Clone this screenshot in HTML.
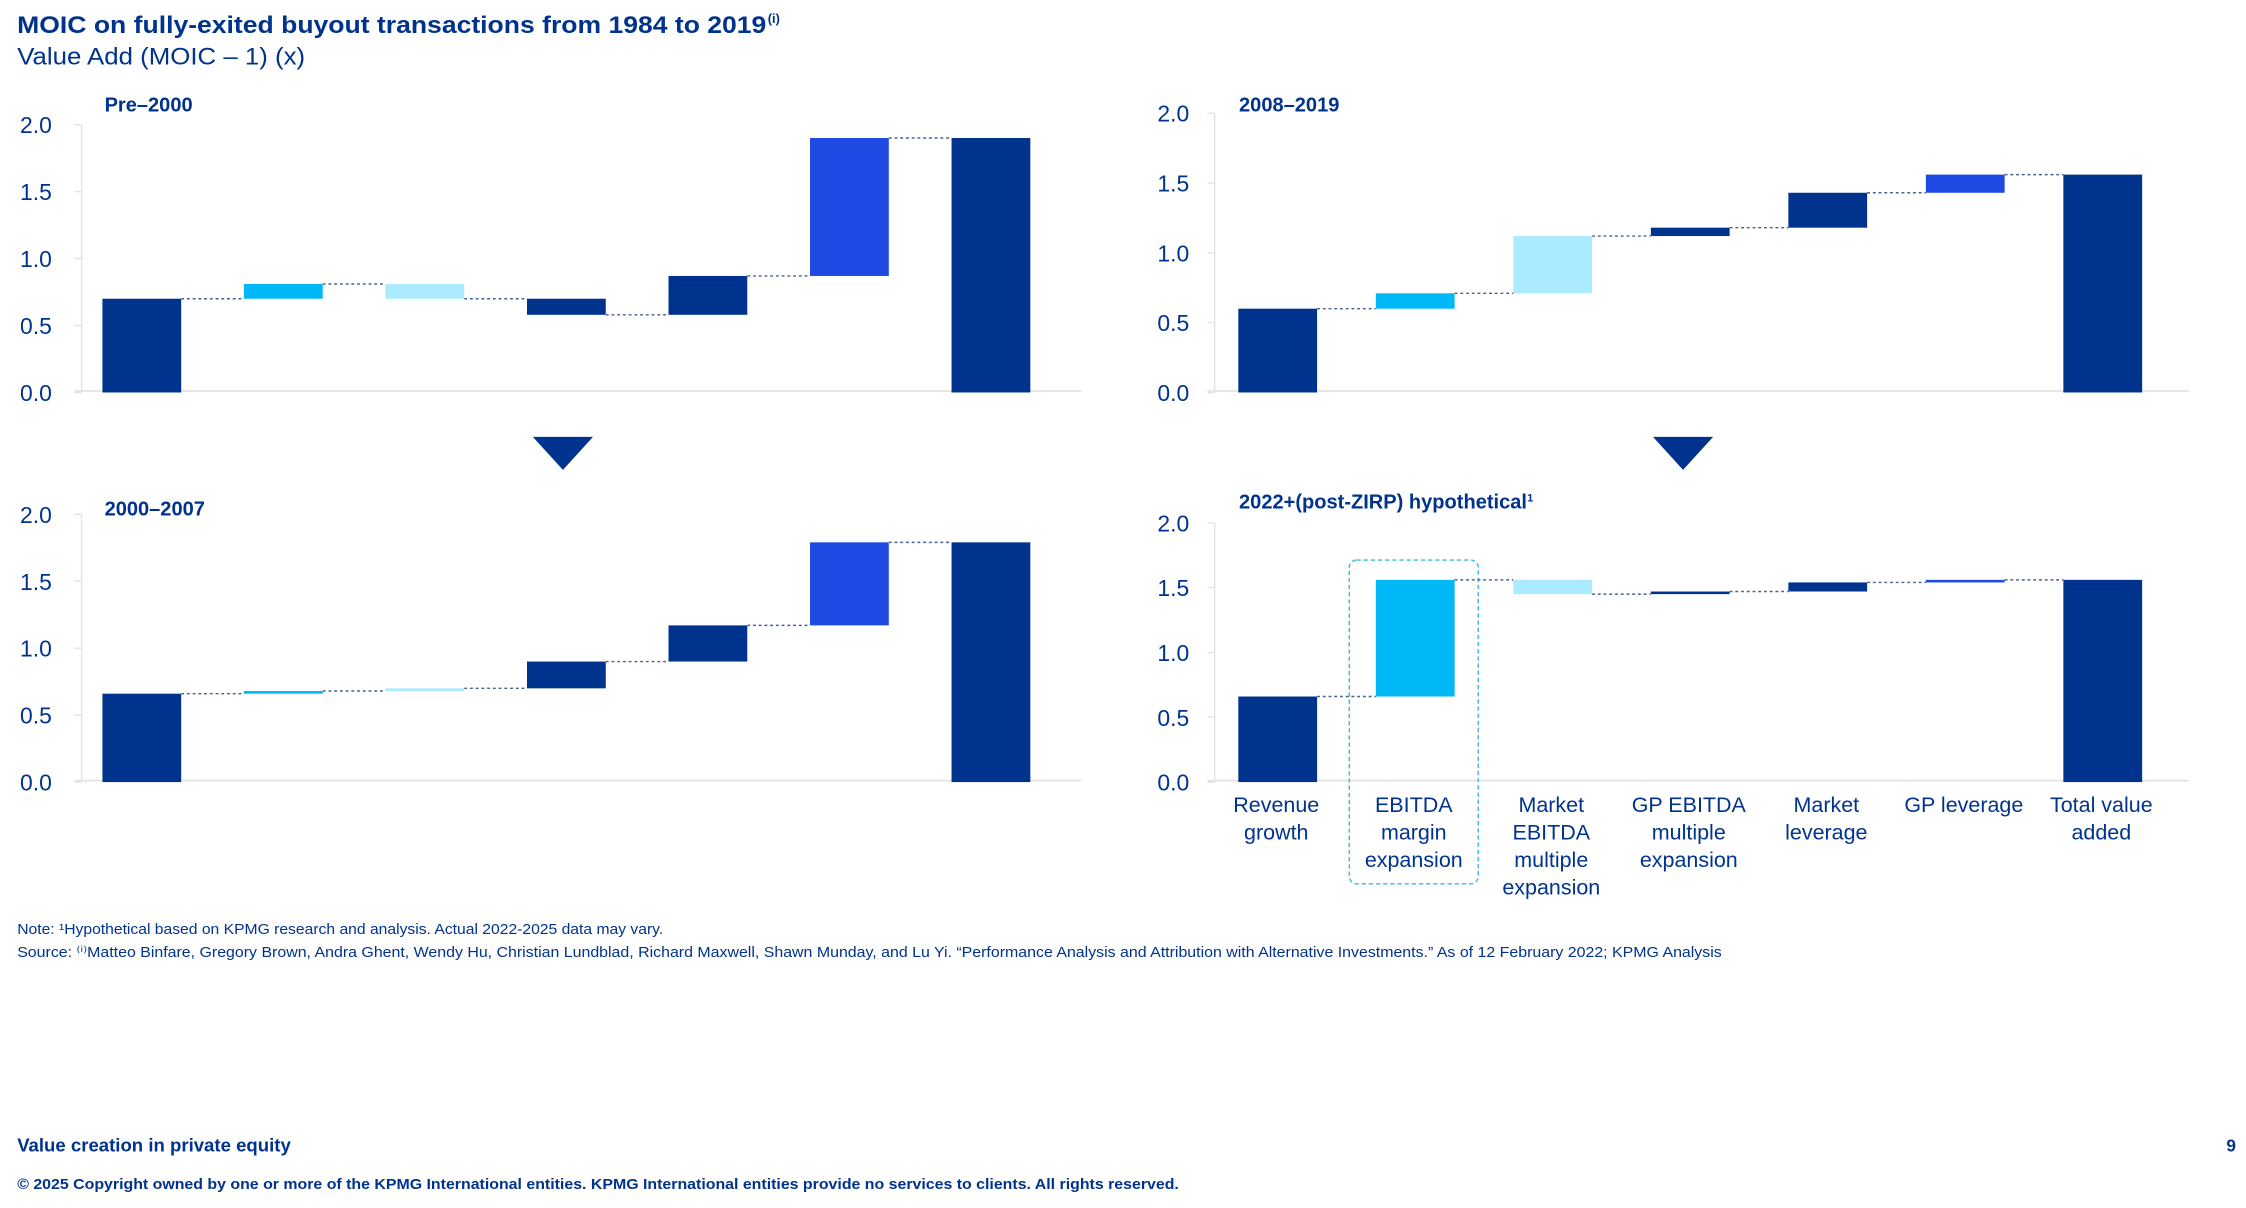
<!DOCTYPE html>
<html><head><meta charset="utf-8"><style>
html,body{margin:0;padding:0;background:#fff;}
svg{display:block;font-family:"Liberation Sans",sans-serif;}
</style></head><body>
<svg id="root" width="2246" height="1208" viewBox="0 0 1568 843.35" preserveAspectRatio="none" xmlns="http://www.w3.org/2000/svg">
<text x="12" y="23" font-size="17" font-weight="bold" fill="#00338D" textLength="523" lengthAdjust="spacingAndGlyphs">MOIC on fully-exited buyout transactions from 1984 to 2019</text>
<text x="536" y="16" font-size="9" font-weight="bold" fill="#00338D">(i)</text>
<text x="12" y="45" font-size="17" fill="#00338D" textLength="201" lengthAdjust="spacingAndGlyphs">Value Add (MOIC – 1) (x)</text>
<polygon points="372,305 414,305 393,328" fill="#00338D"/>
<polygon points="1154,305 1196,305 1175,328" fill="#00338D"/>
<g id="charts"></g>
<text x="12" y="652" font-size="10.5" fill="#00338D" textLength="451" lengthAdjust="spacingAndGlyphs">Note: ¹Hypothetical based on KPMG research and analysis. Actual 2022-2025 data may vary.</text>
<text x="12" y="668" font-size="10.5" fill="#00338D" textLength="1190" lengthAdjust="spacingAndGlyphs">Source: ⁽ⁱ⁾Matteo Binfare, Gregory Brown, Andra Ghent, Wendy Hu, Christian Lundblad, Richard Maxwell, Shawn Munday, and Lu Yi. “Performance Analysis and Attribution with Alternative Investments.” As of 12 February 2022; KPMG Analysis</text>
<text x="12" y="804" font-size="13" font-weight="bold" fill="#00338D" textLength="191" lengthAdjust="spacingAndGlyphs">Value creation in private equity</text>
<text x="1561" y="804" font-size="12" font-weight="bold" fill="#00338D" text-anchor="end">9</text>
<text x="12" y="830" font-size="10.5" font-weight="bold" fill="#00338D" textLength="811" lengthAdjust="spacingAndGlyphs">© 2025 Copyright owned by one or more of the KPMG International entities. KPMG International entities provide no services to clients. All rights reserved.</text>
</svg>
<script>
const categories = ["Revenue growth","EBITDA margin expansion","Market EBITDA multiple expansion","GP EBITDA multiple expansion","Market leverage","GP leverage","Total value added"];
const yTicks = [0, 0.5, 1.0, 1.5, 2.0];
const yTickLabels = ["0.0","0.5","1.0","1.5","2.0"];
const pre2000Deltas = [0.70, 0.11, -0.11, -0.12, 0.29, 1.03];
const p2000to2007Deltas = [0.66, 0.02, 0.02, 0.20, 0.27, 0.62];
const p2008to2019Deltas = [0.60, 0.11, 0.41, 0.06, 0.25, 0.13];
const post2022Deltas = [0.66, 0.90, -0.11, 0.02, 0.07, 0.02];
const panelTitles = ["Pre–2000","2000–2007","2008–2019","2022+(post-ZIRP) hypothetical"];

const NS="http://www.w3.org/2000/svg";
const colors=["#00338D","#00B8F5","#ACEAFF","#00338D","#00338D","#1E49E2","#00338D"];
const panels=[
 {d:pre2000Deltas, x0:57, x1:755, zero:274, unit:93.5, lab:14, title:[73,78], first:99, step:98.8, name:"pre-2000"},
 {d:p2000to2007Deltas, x0:57, x1:755, zero:546, unit:93.5, lab:14, title:[73,360], first:99, step:98.8, name:"2000-2007"},
 {d:p2008to2019Deltas, x0:848, x1:1528, zero:274, unit:97.5, lab:808, title:[865,78], first:892, step:96, name:"2008-2019"},
 {d:post2022Deltas, x0:848, x1:1528, zero:546, unit:90.5, lab:808, title:[865,355], first:892, step:96, name:"post-zirp"}
];
const root=document.getElementById('charts');
function mk(tag,attrs,parent){const e=document.createElementNS(NS,tag);for(const k in attrs)e.setAttribute(k,attrs[k]);(parent||root).appendChild(e);return e;}
panels.forEach((p,pi)=>{
  const g=mk('g',{});
  
  
  const y=v=>p.zero-v*p.unit;
  const xc=i=>p.first+i*p.step;
  const t=mk('text',{x:p.title[0],y:p.title[1],'font-size':14,'font-weight':'bold',fill:'#00338D'},g);
  t.textContent=panelTitles[pi];
  
  
  if(pi===3){const s=mk('tspan',{dy:-5,'font-size':8},t);s.textContent='1';}
  mk('line',{x1:p.x0,y1:y(2),x2:p.x0,y2:y(0),stroke:'#e3e3e3','stroke-width':1},g);
  yTicks.forEach((v,i)=>{
    mk('line',{x1:p.x0-5,y1:y(v),x2:p.x0,y2:y(v),stroke:'#e3e3e3'},g);
    const l=mk('text',{x:p.lab,y:y(v)+6,'font-size':16,fill:'#00338D'},g);
    l.textContent=yTickLabels[i];
    
    
  });
  mk('line',{x1:p.x0-5,y1:y(0)-1,x2:p.x1,y2:y(0)-1,stroke:'#e3e3e3','stroke-width':1.2},g);
  let cum=0; const bw=55;
  const segs=[];
  p.d.forEach((d,i)=>{const a=cum,b=cum+d;segs.push([a,b]);cum=b;});
  segs.push([0,cum]);
  if(pi===3){
    const r=mk('rect',{x:xc(1)-46,y:391,width:90,height:226,rx:5,fill:'none',stroke:'#3DB8E6','stroke-width':1,'stroke-dasharray':'3,2'},g);
    
    
  }
  segs.forEach((s,i)=>{
    const top=y(Math.max(s[0],s[1])),bot=y(Math.min(s[0],s[1]));
    const r=mk('rect',{x:xc(i)-bw/2,y:top,width:bw,height:Math.max(bot-top,1.5),fill:colors[i]},g);
    
    
    if(i<segs.length-1){
      const lv=y(s[1]);
      mk('line',{x1:xc(i)+bw/2,y1:lv,x2:xc(i+1)-bw/2,y2:lv,stroke:'#4a5f8f','stroke-width':1,'stroke-dasharray':'2,2'},g);
    }
  });
  if(pi===3){
    const lines=[["Revenue","growth"],["EBITDA","margin","expansion"],["Market","EBITDA","multiple","expansion"],["GP EBITDA","multiple","expansion"],["Market","leverage"],["GP leverage"],["Total value","added"]];
    lines.forEach((ls,i)=>{
      const tx=mk('text',{x:xc(i)-1,'font-size':15,fill:'#00338D','text-anchor':'middle'},g);
      
      
      ls.forEach((w,k)=>{const s=mk('tspan',{x:xc(i)-1,y:567+k*19.2},tx);s.textContent=w;});
    });
  }
});
</script>
</body></html>
